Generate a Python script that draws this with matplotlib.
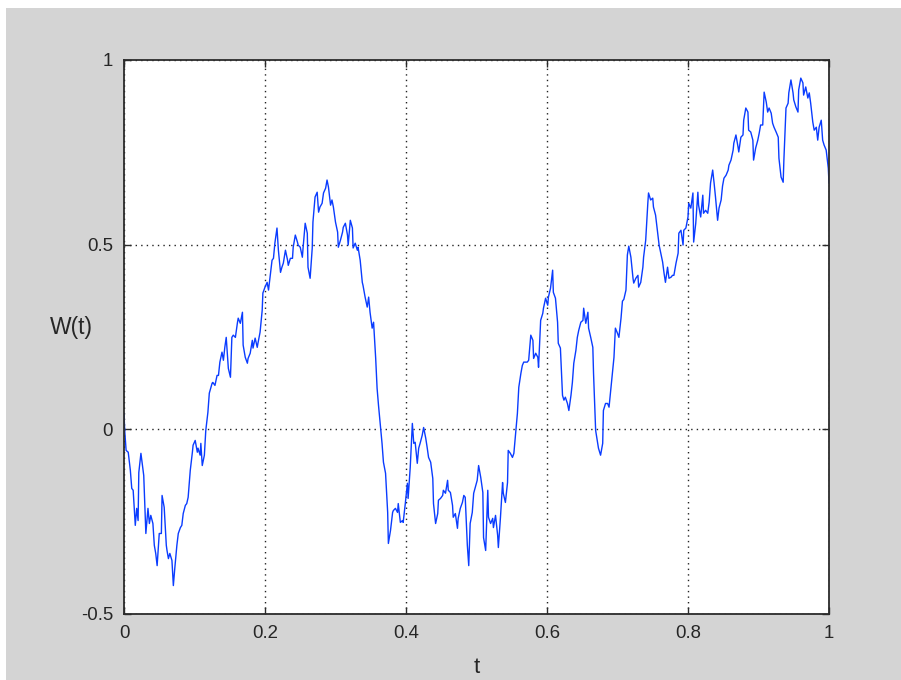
import matplotlib
matplotlib.use("Agg")
import matplotlib.pyplot as plt
from matplotlib.patches import Rectangle

# Sample path of a Wiener process W(t) on [0, 1]
t = [0.000, 0.001, 0.003, 0.006, 0.009, 0.011, 0.013, 0.016, 0.018, 0.020,
     0.021, 0.024, 0.027, 0.028, 0.031, 0.034, 0.036, 0.038, 0.041, 0.043,
     0.045, 0.047, 0.050, 0.053, 0.054, 0.057, 0.060, 0.061, 0.063, 0.065,
     0.068, 0.070, 0.072, 0.075, 0.077, 0.080, 0.082, 0.084, 0.087, 0.089,
     0.091, 0.094, 0.097, 0.098, 0.101, 0.104, 0.105, 0.108, 0.109, 0.111,
     0.114, 0.116, 0.119, 0.121, 0.125, 0.126, 0.129, 0.132, 0.134, 0.136,
     0.139, 0.141, 0.143, 0.145, 0.146, 0.148, 0.151, 0.153, 0.155, 0.158,
     0.161, 0.162, 0.165, 0.168, 0.169, 0.172, 0.175, 0.176, 0.179, 0.182,
     0.183, 0.186, 0.189, 0.190, 0.193, 0.196, 0.197, 0.200, 0.203, 0.205,
     0.207, 0.210, 0.212, 0.214, 0.217, 0.219, 0.222, 0.224, 0.226, 0.229,
     0.232, 0.233, 0.236, 0.239, 0.240, 0.243, 0.246, 0.247, 0.250, 0.253,
     0.254, 0.257, 0.260, 0.261, 0.264, 0.267, 0.268, 0.271, 0.274, 0.276,
     0.278, 0.281, 0.283, 0.286, 0.288, 0.290, 0.293, 0.295, 0.297, 0.300,
     0.303, 0.304, 0.307, 0.310, 0.311, 0.314, 0.317, 0.318, 0.321, 0.324,
     0.325, 0.328, 0.331, 0.332, 0.335, 0.338, 0.339, 0.342, 0.345, 0.347,
     0.349, 0.352, 0.354, 0.357, 0.359, 0.361, 0.364, 0.366, 0.368, 0.371,
     0.374, 0.375, 0.378, 0.381, 0.382, 0.385, 0.388, 0.389, 0.392, 0.395,
     0.396, 0.399, 0.402, 0.403, 0.406, 0.409, 0.411, 0.413, 0.416, 0.418,
     0.420, 0.423, 0.425, 0.428, 0.430, 0.432, 0.435, 0.438, 0.439, 0.442,
     0.445, 0.446, 0.449, 0.452, 0.453, 0.456, 0.459, 0.460, 0.463, 0.466,
     0.467, 0.470, 0.473, 0.474, 0.477, 0.480, 0.482, 0.484, 0.487, 0.489,
     0.491, 0.494, 0.496, 0.499, 0.501, 0.503, 0.506, 0.509, 0.510, 0.513,
     0.516, 0.517, 0.520, 0.523, 0.524, 0.527, 0.530, 0.531, 0.534, 0.537,
     0.538, 0.541, 0.544, 0.545, 0.548, 0.551, 0.553, 0.555, 0.558, 0.560,
     0.563, 0.565, 0.567, 0.570, 0.572, 0.574, 0.577, 0.580, 0.581, 0.584,
     0.587, 0.588, 0.591, 0.594, 0.595, 0.598, 0.601, 0.602, 0.605, 0.608,
     0.609, 0.612, 0.615, 0.616, 0.619, 0.622, 0.624, 0.626, 0.629, 0.631,
     0.634, 0.636, 0.638, 0.641, 0.643, 0.645, 0.648, 0.651, 0.652, 0.655,
     0.658, 0.659, 0.662, 0.665, 0.666, 0.669, 0.672, 0.673, 0.676, 0.679,
     0.680, 0.683, 0.686, 0.688, 0.690, 0.693, 0.695, 0.697, 0.700, 0.702,
     0.705, 0.707, 0.709, 0.712, 0.714, 0.716, 0.719, 0.722, 0.723, 0.726,
     0.729, 0.730, 0.733, 0.736, 0.737, 0.740, 0.743, 0.744, 0.747, 0.750,
     0.751, 0.754, 0.757, 0.759, 0.761, 0.764, 0.766, 0.768, 0.771, 0.773,
     0.776, 0.778, 0.780, 0.783, 0.786, 0.787, 0.790, 0.793, 0.794, 0.797,
     0.800, 0.801, 0.804, 0.807, 0.808, 0.811, 0.814, 0.815, 0.818, 0.821,
     0.822, 0.825, 0.828, 0.830, 0.832, 0.835, 0.837, 0.839, 0.842, 0.844,
     0.847, 0.849, 0.851, 0.854, 0.857, 0.858, 0.861, 0.864, 0.865, 0.868,
     0.871, 0.872, 0.875, 0.878, 0.879, 0.882, 0.885, 0.886, 0.889, 0.892,
     0.893, 0.896, 0.899, 0.901, 0.903, 0.906, 0.908, 0.911, 0.913, 0.915,
     0.918, 0.920, 0.922, 0.925, 0.928, 0.929, 0.932, 0.935, 0.936, 0.939,
     0.942, 0.943, 0.946, 0.949, 0.950, 0.953, 0.956, 0.957, 0.960, 0.963,
     0.964, 0.967, 0.970, 0.972, 0.974, 0.977, 0.979, 0.982, 0.984, 0.986,
     0.989, 0.991, 0.993, 0.996, 0.999, 1.000]

W = [0.043, -0.003, -0.057, -0.062, -0.111, -0.160, -0.165, -0.260, -0.214, -0.247,
     -0.117, -0.065, -0.111, -0.125, -0.282, -0.214, -0.255, -0.233, -0.255, -0.314,
     -0.336, -0.369, -0.282, -0.282, -0.179, -0.211, -0.314, -0.328, -0.350, -0.336,
     -0.355, -0.423, -0.377, -0.314, -0.282, -0.266, -0.260, -0.228, -0.206, -0.201,
     -0.184, -0.111, -0.062, -0.043, -0.030, -0.062, -0.051, -0.070, -0.038, -0.098,
     -0.070, -0.003, 0.046, 0.098, 0.125, 0.127, 0.119, 0.146, 0.146, 0.182,
     0.209, 0.187, 0.222, 0.249, 0.220, 0.165, 0.141, 0.249, 0.255, 0.249,
     0.290, 0.301, 0.287, 0.317, 0.228, 0.195, 0.179, 0.192, 0.206, 0.241,
     0.220, 0.247, 0.222, 0.233, 0.263, 0.322, 0.369, 0.385, 0.398, 0.377,
     0.409, 0.458, 0.463, 0.504, 0.545, 0.485, 0.425, 0.439, 0.450, 0.485,
     0.458, 0.444, 0.463, 0.463, 0.493, 0.526, 0.507, 0.499, 0.493, 0.466,
     0.491, 0.558, 0.531, 0.439, 0.409, 0.491, 0.561, 0.629, 0.642, 0.588,
     0.602, 0.612, 0.640, 0.653, 0.675, 0.656, 0.607, 0.621, 0.602, 0.561,
     0.534, 0.493, 0.512, 0.534, 0.547, 0.558, 0.526, 0.499, 0.566, 0.545,
     0.491, 0.504, 0.485, 0.493, 0.458, 0.398, 0.390, 0.358, 0.331, 0.358,
     0.317, 0.274, 0.290, 0.192, 0.111, 0.065, 0.005, -0.038, -0.089, -0.119,
     -0.225, -0.309, -0.274, -0.225, -0.220, -0.214, -0.225, -0.201, -0.252, -0.247,
     -0.252, -0.201, -0.146, -0.187, -0.103, 0.016, -0.038, -0.035, -0.092, -0.051,
     -0.038, -0.016, 0.005, -0.024, -0.049, -0.076, -0.089, -0.133, -0.201, -0.255,
     -0.228, -0.192, -0.187, -0.179, -0.165, -0.173, -0.138, -0.165, -0.171, -0.206,
     -0.238, -0.228, -0.268, -0.241, -0.214, -0.198, -0.179, -0.184, -0.314, -0.369,
     -0.255, -0.225, -0.173, -0.152, -0.138, -0.098, -0.130, -0.171, -0.293, -0.328,
     -0.165, -0.238, -0.255, -0.241, -0.266, -0.233, -0.287, -0.320, -0.238, -0.144,
     -0.173, -0.198, -0.144, -0.057, -0.065, -0.076, -0.065, -0.022, 0.043, 0.114,
     0.152, 0.173, 0.182, 0.182, 0.182, 0.187, 0.255, 0.241, 0.192, 0.206,
     0.195, 0.168, 0.295, 0.314, 0.328, 0.355, 0.336, 0.358, 0.382, 0.431,
     0.371, 0.355, 0.290, 0.233, 0.220, 0.092, 0.079, 0.087, 0.070, 0.051,
     0.092, 0.127, 0.179, 0.214, 0.249, 0.268, 0.290, 0.295, 0.328, 0.287,
     0.317, 0.274, 0.249, 0.222, 0.152, -0.003, -0.038, -0.051, -0.070, -0.038,
     0.051, 0.070, 0.070, 0.060, 0.098, 0.152, 0.195, 0.274, 0.260, 0.249,
     0.301, 0.347, 0.352, 0.377, 0.472, 0.496, 0.466, 0.409, 0.396, 0.409,
     0.417, 0.385, 0.398, 0.439, 0.466, 0.512, 0.612, 0.640, 0.621, 0.626,
     0.602, 0.580, 0.531, 0.499, 0.480, 0.453, 0.423, 0.398, 0.439, 0.409,
     0.412, 0.417, 0.417, 0.450, 0.477, 0.531, 0.539, 0.499, 0.539, 0.545,
     0.575, 0.612, 0.599, 0.640, 0.507, 0.558, 0.642, 0.607, 0.575, 0.634,
     0.585, 0.593, 0.585, 0.615, 0.667, 0.702, 0.667, 0.629, 0.566, 0.599,
     0.621, 0.659, 0.680, 0.688, 0.702, 0.715, 0.729, 0.756, 0.775, 0.797,
     0.764, 0.751, 0.791, 0.797, 0.837, 0.870, 0.859, 0.810, 0.805, 0.783,
     0.729, 0.762, 0.783, 0.802, 0.824, 0.824, 0.913, 0.886, 0.859, 0.870,
     0.856, 0.829, 0.818, 0.805, 0.791, 0.734, 0.683, 0.669, 0.729, 0.870,
     0.883, 0.911, 0.946, 0.911, 0.892, 0.873, 0.859, 0.919, 0.951, 0.938,
     0.905, 0.927, 0.897, 0.911, 0.883, 0.832, 0.810, 0.818, 0.783, 0.818,
     0.837, 0.783, 0.770, 0.756, 0.707, 0.667]

x_ticks = [0, 0.2, 0.4, 0.6, 0.8, 1]
x_tick_labels = ["0", "0.2", "0.4", "0.6", "0.8", "1"]
y_ticks = [-0.5, 0, 0.5, 1]
y_tick_labels = ["-0.5", "0", "0.5", "1"]

plt.rcParams["font.family"] = ["Liberation Sans", "DejaVu Sans"]

W_PX, H_PX = 901, 680
fig = plt.figure(figsize=(W_PX / 100, H_PX / 100), dpi=100, facecolor="white")
# grey window background with a thin white margin at top and left
bg = Rectangle((6 / W_PX, 0), 1 - 6 / W_PX, 1 - 8 / H_PX,
               transform=fig.transFigure, facecolor="#d4d4d4",
               edgecolor="none", zorder=-10)
fig.add_artist(bg)

ax = fig.add_axes([124 / W_PX, 1 - 614 / H_PX, 705 / W_PX, 554 / H_PX])
ax.set_zorder(1)
ax.set_facecolor("white")

ax.plot(t, W, color="#0a3cff", linewidth=1.0, zorder=3)

ax.set_xlim(0, 1)
ax.set_ylim(-0.5, 1)
ax.set_xticks(x_ticks)
ax.set_xticklabels(x_tick_labels)
ax.set_yticks(y_ticks)
ax.set_yticklabels(y_tick_labels)

ax.grid(True, color="#222222", linestyle=(0, (1, 3)), linewidth=1.0)
ax.set_axisbelow(True)

for s in ax.spines.values():
    s.set_color("#2b2b2b")
    s.set_linewidth(1.3)
    s.set_zorder(4)

ax.tick_params(direction="in", length=5, width=1, color="#2b2b2b",
               labelsize=13.4, labelcolor="#262626", pad=8,
               top=True, right=True)

ax.set_xlabel("t", fontsize=16, color="#262626")
ax.xaxis.set_label_coords(0.5, -0.078)
ax.set_ylabel("W(t)", fontsize=16.5, color="#262626", rotation=0,
              ha="center", va="center")
ax.yaxis.set_label_coords(-0.075, 0.518)

fig.savefig("out.png", dpi=100, facecolor=fig.get_facecolor())
